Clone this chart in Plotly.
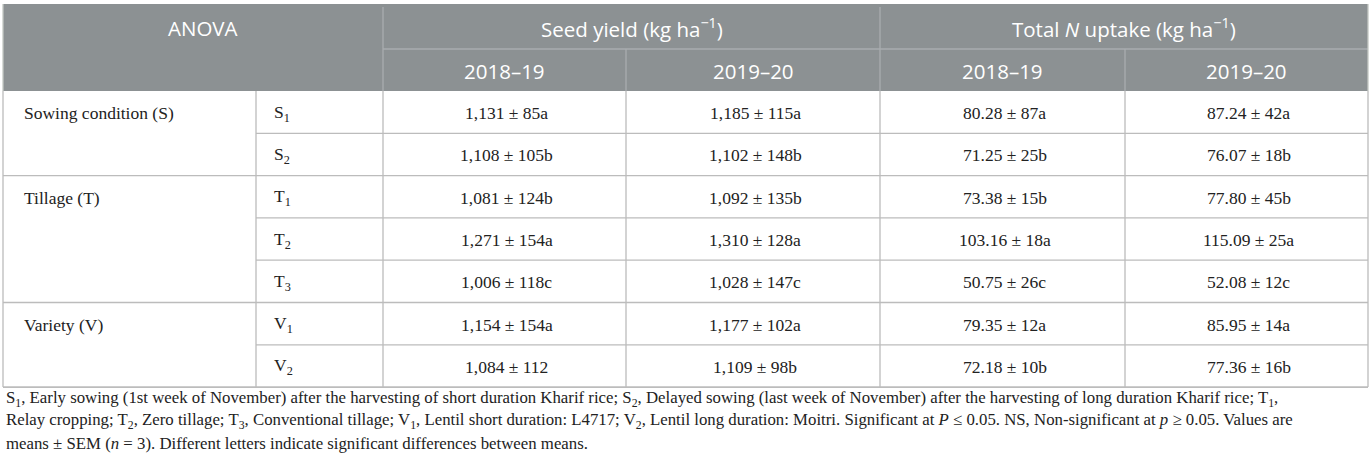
import plotly.graph_objects as go

# table content
factors = ["Sowing condition (S)", "Tillage (T)", "Variety (V)"]
levels = ["S<sub>1</sub>", "S<sub>2</sub>", "T<sub>1</sub>", "T<sub>2</sub>", "T<sub>3</sub>",
          "V<sub>1</sub>", "V<sub>2</sub>"]
group_sizes = [2, 3, 2]

seed_1819_mean = [1131, 1108, 1081, 1271, 1006, 1154, 1084]
seed_1819_sem = [85, 105, 124, 154, 118, 154, 112]
seed_1819_letter = ["a", "b", "b", "a", "c", "a", ""]

seed_1920_mean = [1185, 1102, 1092, 1310, 1028, 1177, 1109]
seed_1920_sem = [115, 148, 135, 128, 147, 102, 98]
seed_1920_letter = ["a", "b", "b", "a", "c", "a", "b"]

n_1819_mean = [80.28, 71.25, 73.38, 103.16, 50.75, 79.35, 72.18]
n_1819_sem = [87, 25, 15, 18, 26, 12, 10]
n_1819_letter = ["a", "b", "b", "a", "c", "a", "b"]

n_1920_mean = [87.24, 76.07, 77.80, 115.09, 52.08, 85.95, 77.36]
n_1920_sem = [42, 18, 45, 25, 12, 14, 16]
n_1920_letter = ["a", "b", "b", "a", "c", "a", "b"]

header_top = ["ANOVA", "Seed yield (kg ha<sup>−1</sup>)", "Total <i>N</i> uptake (kg ha<sup>−1</sup>)"]
header_years = ["2018–19", "2019–20", "2018–19", "2019–20"]

footnote = [
    "S<sub>1</sub>, Early sowing (1st week of November) after the harvesting of short duration Kharif rice; "
    "S<sub>2</sub>, Delayed sowing (last week of November) after the harvesting of long duration Kharif rice; T<sub>1</sub>,",
    "Relay cropping; T<sub>2</sub>, Zero tillage; T<sub>3</sub>, Conventional tillage; V<sub>1</sub>, Lentil short duration: L4717; "
    "V<sub>2</sub>, Lentil long duration: Moitri. Significant at <i>P</i> ≤ 0.05. NS, Non-significant at <i>p</i> ≥ 0.05. Values are",
    "means ± SEM (<i>n</i> = 3). Different letters indicate significant differences between means.",
]

W, H = 1372, 468
col_x = [3, 256, 383, 626, 880, 1125, 1368]
y_top, y_mid, y_head = 4, 49, 91
row_h = 42.3
n_rows = len(levels)
row_y = [y_head + i * row_h for i in range(n_rows + 1)]

HEAD_FILL = "#8c9193"
HEAD_LINE = "#a9adaf"
BODY_LINE = "#bcbcbc"
SERIF = "Liberation Serif"
SANS = "Open Sans"
BODY_SIZE = 17.5
HEAD_SIZE = 20.5
FOOT_SIZE = 16.8


def fmt_seed(m, s, l):
    return f"{m:,} ± {s}{l}"


def fmt_n(m, s, l):
    return f"{m:.2f} ± {s}{l}"


columns = [
    [fmt_seed(*v) for v in zip(seed_1819_mean, seed_1819_sem, seed_1819_letter)],
    [fmt_seed(*v) for v in zip(seed_1920_mean, seed_1920_sem, seed_1920_letter)],
    [fmt_n(*v) for v in zip(n_1819_mean, n_1819_sem, n_1819_letter)],
    [fmt_n(*v) for v in zip(n_1920_mean, n_1920_sem, n_1920_letter)],
]

fig = go.Figure()
shapes = []
annots = []


def line(x0, y0, x1, y1, color, width=1.3):
    shapes.append(dict(type="line", x0=x0, y0=y0, x1=x1, y1=y1, xref="x", yref="y",
                       line=dict(color=color, width=width)))


def text(x, y, s, size, color, family, anchor="center"):
    annots.append(dict(x=x, y=y, text=s, xref="x", yref="y", showarrow=False,
                       xanchor=anchor, yanchor="middle",
                       font=dict(size=size, color=color, family=family)))


# header block
shapes.append(dict(type="rect", x0=col_x[0], y0=y_top, x1=col_x[-1], y1=y_head,
                   xref="x", yref="y", fillcolor=HEAD_FILL, line=dict(width=0), layer="below"))
line(col_x[2], y_mid, col_x[-1], y_mid, HEAD_LINE)
line(col_x[2], y_top + 3, col_x[2], y_head, HEAD_LINE)
line(col_x[4], y_top + 3, col_x[4], y_head, HEAD_LINE)
line(col_x[3], y_mid, col_x[3], y_head, HEAD_LINE)
line(col_x[5], y_mid, col_x[5], y_head, HEAD_LINE)

text((col_x[0] + col_x[2]) / 2 + 10, (y_top + y_mid) / 2 + 1, header_top[0], HEAD_SIZE, "white", SANS)
text((col_x[2] + col_x[4]) / 2, (y_top + y_mid) / 2 + 1, header_top[1], HEAD_SIZE, "white", SANS)
text((col_x[4] + col_x[6]) / 2, (y_top + y_mid) / 2 + 1, header_top[2], HEAD_SIZE, "white", SANS)
for j, yr in enumerate(header_years):
    text((col_x[j + 2] + col_x[j + 3]) / 2, (y_mid + y_head) / 2 + 1, yr, HEAD_SIZE, "white", SANS)

# body grid
for cx in col_x:
    line(cx, y_head, cx, row_y[-1], BODY_LINE)
line(col_x[0], row_y[-1], col_x[-1], row_y[-1], BODY_LINE, 1.6)
line(col_x[0], y_top, col_x[0], y_head, "#c3c8c3")
line(col_x[-1], y_top, col_x[-1], y_head, "#c3c8c3")

group_starts = []
start = 0
for g in group_sizes:
    group_starts.append(start)
    start += g
for i in range(1, n_rows):
    x0 = col_x[0] if i in group_starts else col_x[1]
    line(x0, row_y[i], col_x[-1], row_y[i], BODY_LINE)

# body text
for fi, gs in enumerate(group_starts):
    text(col_x[0] + 19, (row_y[gs] + row_y[gs + 1]) / 2 + 1, factors[fi], BODY_SIZE, "#222222", SERIF, "left")
for i in range(n_rows):
    yc = (row_y[i] + row_y[i + 1]) / 2 + 1
    text(col_x[1] + 16, yc, levels[i], BODY_SIZE, "#222222", SERIF, "left")
    for j, col in enumerate(columns):
        text((col_x[j + 2] + col_x[j + 3]) / 2 + 2, yc, col[i], BODY_SIZE, "#222222", SERIF)

# footnote
foot_y = [399, 421, 443]
for s, fy in zip(footnote, foot_y):
    text(4, fy, s, FOOT_SIZE, "#222222", SERIF, "left")

fig.update_layout(
    width=W, height=H,
    margin=dict(l=0, r=0, t=0, b=0),
    paper_bgcolor="white", plot_bgcolor="white",
    xaxis=dict(range=[0, W], visible=False, fixedrange=True),
    yaxis=dict(range=[H, 0], visible=False, fixedrange=True),
    shapes=shapes, annotations=annots, showlegend=False,
)

# drop the default page margin so the figure sits at the window's corner
fig.write_html("out.html", config={"displayModeBar": False},
               post_script="document.body.style.margin='0';")
